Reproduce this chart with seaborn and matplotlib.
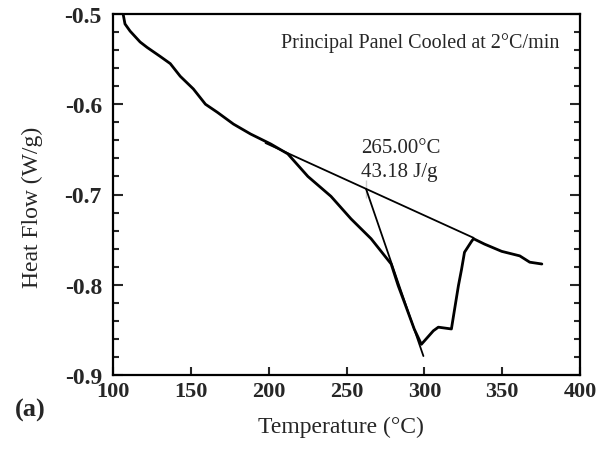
import numpy as np
import pandas as pd
import matplotlib
matplotlib.use("Agg")
import matplotlib.pyplot as plt
import seaborn as sns
from matplotlib.ticker import MultipleLocator

# DSC heat-flow curve
temperature = [106.5, 107.7, 111.0, 117.4, 121.9, 130.3, 136.8, 143.2, 151.6, 159.4,
               167.1, 177.4, 188.4, 201.3, 212.3, 225.2, 240.0, 252.9, 265.8, 278.7,
               283.2, 287.1, 293.5, 298.1, 305.8, 309.0, 317.4, 318.7, 321.9, 323.9,
               325.8, 330.3, 331.6, 338.7, 349.7, 361.3, 367.7, 375.5]
heat_flow = [-0.500, -0.511, -0.519, -0.531, -0.537, -0.547, -0.555, -0.569, -0.583, -0.600,
             -0.609, -0.622, -0.633, -0.644, -0.655, -0.680, -0.702, -0.727, -0.749, -0.777,
             -0.801, -0.819, -0.849, -0.866, -0.851, -0.847, -0.849, -0.835, -0.801, -0.783,
             -0.764, -0.752, -0.749, -0.755, -0.763, -0.768, -0.775, -0.777]

# integration baseline and onset tangent
baseline_t = [198.0, 331.6]
baseline_v = [-0.643, -0.748]
tangent_t = [262.6, 299.4]
tangent_v = [-0.694, -0.879]
marker_t = [262.6, 262.6]
marker_v = [-0.684, -0.704]

x_ticks = [100, 150, 200, 250, 300, 350, 400]
y_ticks = [-0.9, -0.8, -0.7, -0.6, -0.5]

sns.set_style("white")
plt.rcParams['font.family'] = ['Liberation Serif', 'DejaVu Serif']

fig = plt.figure(figsize=(6.06, 4.56), dpi=100)
ax = fig.add_axes([113/606, 80/456, 467/606, 361/456])

df = pd.DataFrame({"T": temperature, "HF": heat_flow})
sns.lineplot(data=df, x="T", y="HF", sort=False, color="black", lw=2.0, ax=ax)
sns.lineplot(x=baseline_t, y=baseline_v, sort=False, color="black", lw=1.3, ax=ax)
sns.lineplot(x=tangent_t, y=tangent_v, sort=False, color="black", lw=1.3, ax=ax)
sns.lineplot(x=marker_t, y=marker_v, sort=False, color="black", lw=1.3, ax=ax)

ax.set_xlim(100, 400)
ax.set_ylim(-0.9, -0.5)
ax.set_xticks(x_ticks)
ax.set_yticks(y_ticks)
ax.set_xticklabels([str(t) for t in x_ticks], fontweight='bold', fontsize=16)
ax.set_yticklabels([f"{t:.1f}" for t in y_ticks], fontweight='bold', fontsize=17)
ax.yaxis.set_minor_locator(MultipleLocator(0.02))
ax.tick_params(axis='y', which='both', direction='in', left=True, right=True, width=1.5)
ax.tick_params(axis='y', which='major', length=7, pad=8)
ax.tick_params(axis='y', which='minor', length=4)
ax.tick_params(axis='x', which='major', direction='in', bottom=True, top=False,
               length=6, width=1.5, pad=4)
for s in ax.spines.values():
    s.set_linewidth(1.6)
    s.set_color('black')

ax.set_xlabel("Temperature (°C)", fontsize=17)
ax.set_ylabel("Heat Flow (W/g)", fontsize=17)
ax.xaxis.set_label_coords(0.488, -0.113)
ax.yaxis.set_label_coords(-0.150, 0.468)

ax.text(0.955, 0.922, "Principal Panel Cooled at 2°C/min", transform=ax.transAxes,
        ha='right', va='center', fontsize=14.5)
ax.text(259.4, -0.6529, "265.00°C", ha='left', va='baseline', fontsize=15)
ax.text(259.4, -0.6795, "43.18 J/g", ha='left', va='baseline', fontsize=15)
fig.text(15/606, 1 - 410/456, "(a)", fontsize=19, fontweight='bold', ha='left', va='center')

fig.savefig("out.png", dpi=100)
